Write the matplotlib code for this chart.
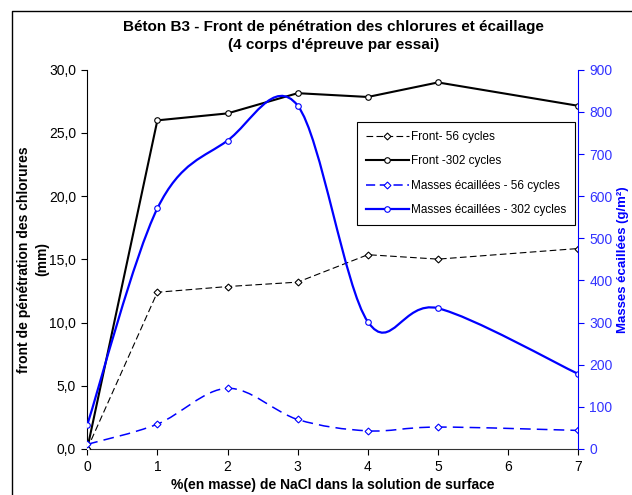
import numpy as np
import matplotlib
matplotlib.use("Agg")
import matplotlib.pyplot as plt
from matplotlib.path import Path
from matplotlib.patches import PathPatch
from matplotlib.lines import Line2D
from matplotlib.ticker import FuncFormatter

plt.rcParams['font.family'] = ['Liberation Sans', 'DejaVu Sans']

# % NaCl in surface solution
nacl = [0, 1, 2, 3, 4, 5, 7]
# chloride front depth (mm)
front_56 = [0.0, 12.4, 12.85, 13.2, 15.37, 15.02, 15.86]
front_302 = [0.0, 26.0, 26.55, 28.15, 27.85, 29.0, 27.15]
# scaled mass (g/m2)
masse_56 = [11, 59, 144, 70, 43, 52, 44]
masse_302 = [57, 571, 732, 815, 302, 334, 178]

BLUE = '#0000FF'
TICKBLUE = '#3333FF'


def smooth_path(x, y):
    # excel-like smoothed line: cubic bezier, control points from neighbours
    x = np.asarray(x, float)
    y = np.asarray(y, float)
    n = len(x)
    verts = [(x[0], y[0])]
    codes = [Path.MOVETO]
    for i in range(n - 1):
        p0 = i - 1 if i > 0 else i
        p3 = i + 2 if i + 2 < n else i + 1
        c1 = (x[i] + (x[i + 1] - x[p0]) / 6, y[i] + (y[i + 1] - y[p0]) / 6)
        c2 = (x[i + 1] - (x[p3] - x[i]) / 6, y[i + 1] - (y[p3] - y[i]) / 6)
        verts += [c1, c2, (x[i + 1], y[i + 1])]
        codes += [Path.CURVE4] * 3
    return Path(verts, codes)


fig = plt.figure(figsize=(6.32, 4.95), dpi=100)
ax = fig.add_axes([0.138, 0.093, 0.777, 0.766])
ax2 = ax.twinx()

# front lines (straight)
ax.plot(nacl, front_56, color='black', lw=0.8, ls=(0, (6, 3)), marker='D', ms=3.5,
        mfc='white', mec='black', mew=0.8, zorder=3)
ax.plot(nacl, front_302, color='black', lw=1.5, marker='o', ms=4,
        mfc='white', mec='black', mew=0.8, zorder=3)

# mass lines (smoothed)
ax2.add_patch(PathPatch(smooth_path(nacl, masse_56), fill=False, edgecolor=BLUE,
                        lw=1.1, ls=(0, (7, 4))))
ax2.add_patch(PathPatch(smooth_path(nacl, masse_302), fill=False, edgecolor=BLUE, lw=1.6))
ax2.plot(nacl, masse_56, ls='none', marker='D', ms=3.5, mfc='white', mec=BLUE, mew=0.8)
ax2.plot(nacl, masse_302, ls='none', marker='o', ms=4, mfc='white', mec=BLUE, mew=0.8)

ax.set_xlim(0, 7)
ax.set_ylim(0, 30)
ax2.set_ylim(0, 900)
ax.set_xticks(range(0, 8))
ax.set_yticks(np.arange(0, 31, 5))
ax2.set_yticks(range(0, 901, 100))
ax.yaxis.set_major_formatter(FuncFormatter(lambda v, p: f"{v:.1f}".replace('.', ',')))

for a in (ax, ax2):
    a.spines['top'].set_visible(False)
ax.spines['right'].set_visible(False)
ax2.spines['left'].set_visible(False)
ax2.spines['bottom'].set_visible(False)
ax2.spines['right'].set_color(BLUE)
ax.spines['left'].set_color('black')
ax.spines['bottom'].set_color('#333333')

ax.tick_params(axis='both', direction='out', length=4, labelsize=10, colors='black',
               pad=4)
ax2.tick_params(axis='y', direction='out', length=4, labelsize=10, colors=BLUE,
                labelcolor=TICKBLUE, pad=4)

ax.set_xlabel("%(en masse) de NaCl dans la solution de surface", fontsize=10,
              fontweight='bold', labelpad=3)
ax.set_ylabel("front de pénétration des chlorures\n(mm)", fontsize=10,
              fontweight='bold', labelpad=0, linespacing=1.35)
ax2.set_ylabel("Masses écaillées (g/m²)", fontsize=9.5, fontweight='bold',
               color=BLUE, labelpad=3)

fig.text(0.528, 0.927, "Béton B3 - Front de pénétration des chlorures et écaillage\n"
         "(4 corps d'épreuve par essai)", ha='center', va='center', fontsize=11,
         fontweight='bold', linespacing=1.35)

handles = [
    Line2D([], [], color='black', lw=0.8, ls=(0, (6, 3)), marker='D', ms=3.5,
           mfc='white', mec='black', mew=0.8),
    Line2D([], [], color='black', lw=1.5, marker='o', ms=4, mfc='white', mec='black', mew=0.8),
    Line2D([], [], color=BLUE, lw=1.1, ls=(0, (6, 3)), marker='D', ms=3.5,
           mfc='white', mec=BLUE, mew=0.8),
    Line2D([], [], color=BLUE, lw=1.6, marker='o', ms=4, mfc='white', mec=BLUE, mew=0.8),
]
labels = ["Front- 56 cycles", "Front -302 cycles",
          "Masses écaillées - 56 cycles", "Masses écaillées - 302 cycles"]
leg = ax2.legend(handles, labels, loc='upper left', bbox_to_anchor=(0.55, 0.862),
                 fontsize=8.5, frameon=True, fancybox=False, framealpha=1,
                 edgecolor='black', handlelength=3.6, handletextpad=0.2,
                 labelspacing=1.05, borderpad=0.75, borderaxespad=0)
leg.get_frame().set_linewidth(0.8)

# chart area border (only left and top edges inside the picture)
fig.add_artist(Line2D([0.0185, 0.0185, 1.0], [0.0, 0.978, 0.978], transform=fig.transFigure,
                      color='black', lw=1.0))

fig.savefig("out.png", dpi=100)
